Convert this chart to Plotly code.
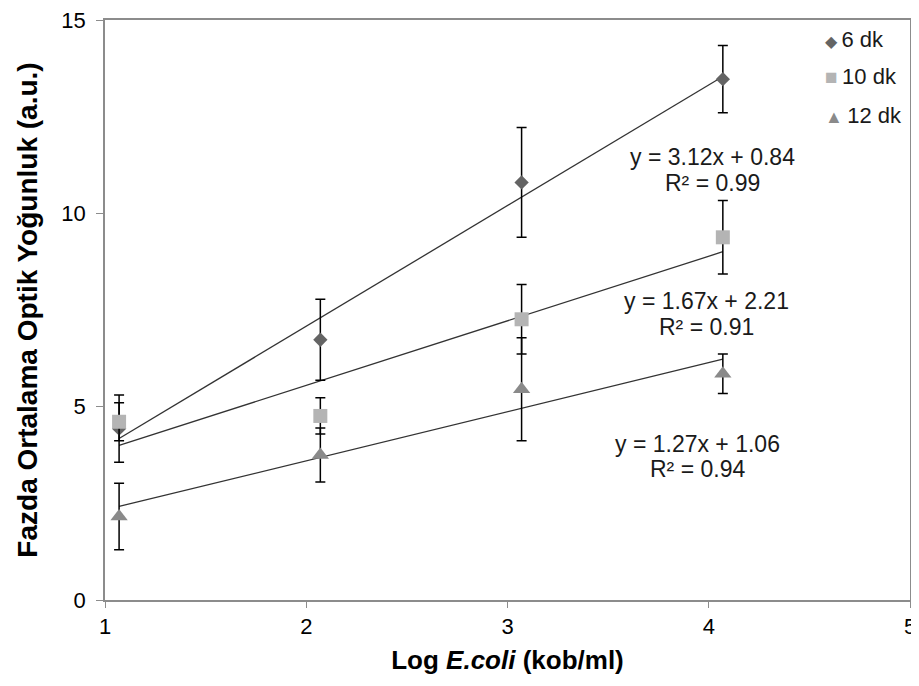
import plotly.graph_objects as go

# data
log_ecoli = [1.07, 2.07, 3.07, 4.07]

series_names = ["6 dk", "10 dk", "12 dk"]
od_6dk = [4.43, 6.73, 10.80, 13.47]
od_10dk = [4.61, 4.76, 7.26, 9.38]
od_12dk = [2.16, 3.75, 5.45, 5.85]

err_6dk = [0.87, 1.05, 1.42, 0.87]
err_10dk = [0.49, 0.47, 0.90, 0.95]
err_12dk = [0.86, 0.70, 1.33, 0.51]

# trend line coefficients as printed on the chart
slopes = [3.12, 1.67, 1.27]
intercepts = [0.84, 2.21, 1.06]
r_squared = [0.99, 0.91, 0.94]

FONT = "Liberation Sans, Arial, sans-serif"

values = [od_6dk, od_10dk, od_12dk]
errors = [err_6dk, err_10dk, err_12dk]
symbols = ["diamond", "square", "triangle-up"]
sizes = [11, 14, 15]
colors = ["#646464", "#b4b4b4", "#8a8a8a"]
glyphs = ["◆", "■", "▲"]
glyph_sizes = [16, 21, 18]

fig = go.Figure()

# trend lines first so markers sit on top
for m, b in zip(slopes, intercepts):
    xs = [log_ecoli[0], log_ecoli[-1]]
    fig.add_trace(
        go.Scatter(
            x=xs,
            y=[m * x + b for x in xs],
            mode="lines",
            line=dict(color="#333333", width=1.3),
            showlegend=False,
            hoverinfo="skip",
        )
    )

for i, name in enumerate(series_names):
    fig.add_trace(
        go.Scatter(
            x=log_ecoli,
            y=values[i],
            name=name,
            mode="markers",
            marker=dict(symbol=symbols[i], size=sizes[i], color=colors[i]),
            error_y=dict(
                type="data",
                array=errors[i],
                color="black",
                thickness=1.5,
                width=5,
            ),
            showlegend=False,
        )
    )

# equation labels (two lines each)
eq_x = [4.02, 3.99, 3.945]
eq_y = [11.45, 7.72, 4.04]
r2_y = [10.78, 7.05, 3.40]
for i in range(3):
    fig.add_annotation(
        x=eq_x[i], y=eq_y[i], xref="x", yref="y",
        text=f"y = {slopes[i]:.2f}x + {intercepts[i]:.2f}",
        showarrow=False,
        font=dict(family=FONT, size=23, color="#1a1a1a"),
    )
    fig.add_annotation(
        x=eq_x[i], y=r2_y[i], xref="x", yref="y",
        text=f"R² = {r_squared[i]:.2f}",
        showarrow=False,
        font=dict(family=FONT, size=23, color="#1a1a1a"),
    )

# legend
legend_y = [0.966, 0.902, 0.835]
for i, name in enumerate(series_names):
    fig.add_annotation(
        x=0.892, y=legend_y[i], xref="paper", yref="paper",
        xanchor="left", yanchor="middle",
        text=(f"<span style='color:{colors[i]};font-size:{glyph_sizes[i]}px'>"
              f"{glyphs[i]}</span>\u2009{name}"),
        showarrow=False,
        font=dict(family=FONT, size=22, color="#1a1a1a"),
    )

# the page body adds an 8px offset, so the figure is sized to fit inside it
fig.update_layout(
    width=911,
    height=670,
    margin=dict(l=97, r=9, t=12, b=78),
    plot_bgcolor="white",
    paper_bgcolor="white",
    font=dict(family=FONT, size=22, color="black"),
    showlegend=False,
)

fig.update_xaxes(
    range=[1, 5],
    tickvals=[1, 2, 3, 4, 5],
    tickfont=dict(family=FONT, size=22, color="black"),
    ticklabeloverflow="allow",
    showgrid=False,
    zeroline=False,
    showline=True,
    linecolor="#8c8c8c",
    linewidth=1.5,
    mirror=True,
    ticks="outside",
    ticklen=6,
    tickcolor="#8c8c8c",
    automargin=False,
    title=dict(
        text="<b>Log <i>E.coli</i> (kob/ml)</b>",
        font=dict(family=FONT, size=26),
        standoff=13,
    ),
)
fig.update_yaxes(
    range=[0, 15],
    tickvals=[0, 5, 10, 15],
    tickfont=dict(family=FONT, size=22, color="black"),
    ticklabeloverflow="allow",
    showgrid=False,
    zeroline=False,
    showline=True,
    linecolor="#8c8c8c",
    linewidth=1.5,
    mirror=True,
    ticks="outside",
    ticklen=7,
    tickcolor="#8c8c8c",
    ticklabelstandoff=6,
    automargin=False,
    title=dict(
        text="<b>Fazda Ortalama Optik Yoğunluk (a.u.)</b>",
        font=dict(family=FONT, size=28),
        standoff=16,
    ),
)

fig.write_html("out.html")
